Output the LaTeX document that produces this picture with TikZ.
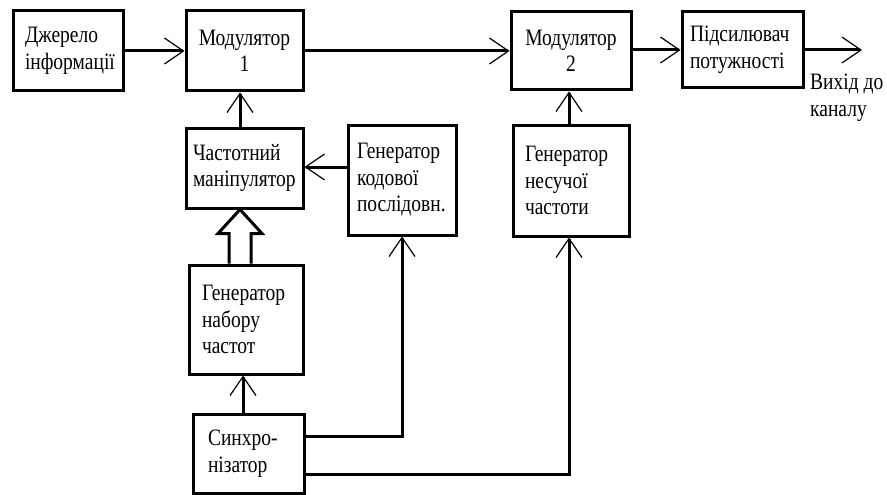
\documentclass[tikz,border=0pt]{standalone}
\usepackage{fontspec}
\setmainfont{Liberation Serif}[FakeStretch=0.83]
\usetikzlibrary{arrows.meta,calc}
\tikzset{
  blk/.style={draw, line width=3pt, inner sep=0pt, align=left,
    font=\fontsize{23.5}{26.5}\selectfont},
  arr/.style={line width=3pt, -{Straight Barb[length=19pt,width=26pt,line width=1.2pt]}},
  wire/.style={line width=3pt},
  lbl/.style={inner sep=0pt, align=left, font=\fontsize{23.5}{26.5}\selectfont}
}
\begin{document}
\begin{tikzpicture}[x=1pt,y=-1pt]
\useasboundingbox (0,0) rectangle (887,495);
% blocks
\node[blk, minimum width=110, minimum height=80, text width=86] (src) at (68,51) {Джерело\\інформації};
\node[blk, minimum width=117, minimum height=80, text width=117, align=center] (mod1) at (244.5,51) {Модулятор\\1};
\node[blk, minimum width=120, minimum height=78, text width=120, align=center] (mod2) at (571,51) {Модулятор\\2};
\node[blk, minimum width=121, minimum height=76, text width=105] (amp) at (742.5,50) {Підсилювач\\потужності};
\node[blk, minimum width=117, minimum height=80, text width=103] (manip) at (244.5,168) {Частотний\\маніпулятор};
\node[blk, minimum width=108, minimum height=110, text width=90] (gcode) at (402,180) {Генератор\\кодової\\послідовн.};
\node[blk, minimum width=116, minimum height=111, text width=92] (gcar) at (571,180.5) {Генератор\\несучої\\частоти};
\node[blk, minimum width=114, minimum height=109, text width=88] (gset) at (246,319.5) {Генератор\\набору\\частот};
\node[blk, minimum width=111, minimum height=79, text width=81] (sync) at (248.5,453.5) {Синхро-\\нізатор};
% output label
\node[lbl, anchor=north west] (outlbl) at (810,74) {Вихід до\\каналу};
\coordinate (out) at (862,50);
% connectors
\draw[arr] (src.east) -- (src.east -| mod1.west);
\draw[arr] (mod1.east) -- (mod1.east -| mod2.west);
\draw[arr] ([yshift=1pt]mod2.east) -- ([yshift=1pt]mod2.east -| amp.west);
\draw[arr] (amp.east) -- (out);
\draw[arr] ([xshift=-4.5pt]manip.north) -- ([xshift=-4.5pt]manip.north |- mod1.south);
\draw[arr] ([xshift=-2pt]gcar.north) -- ([xshift=-2pt]gcar.north |- mod2.south);
\draw[arr] ([yshift=13pt]gcode.west) -- ([yshift=13pt]gcode.west -| manip.east);
\draw[arr] ([xshift=-5.5pt]sync.north) -- ([xshift=-5.5pt]sync.north |- gset.south);
\draw[arr] ([yshift=17.5pt]sync.east) -| (gcode.south);
\draw[arr] ([yshift=-20.5pt]sync.east) -| ([xshift=-2pt]gcar.south);
% hollow thick arrow from gset to manip
\coordinate (hb) at ([xshift=-6pt]gset.north);
\coordinate (ht) at ([xshift=-4.5pt]manip.south);
\draw[line width=3pt, fill=white, line join=miter]
  ($(hb)+(-11,0)$) -- ($(ht)+(-11,24)$) -- ($(ht)+(-22,24)$) -- (ht)
  -- ($(ht)+(22,24)$) -- ($(ht)+(11,24)$) -- ($(hb)+(11,0)$);
\end{tikzpicture}
\end{document}
